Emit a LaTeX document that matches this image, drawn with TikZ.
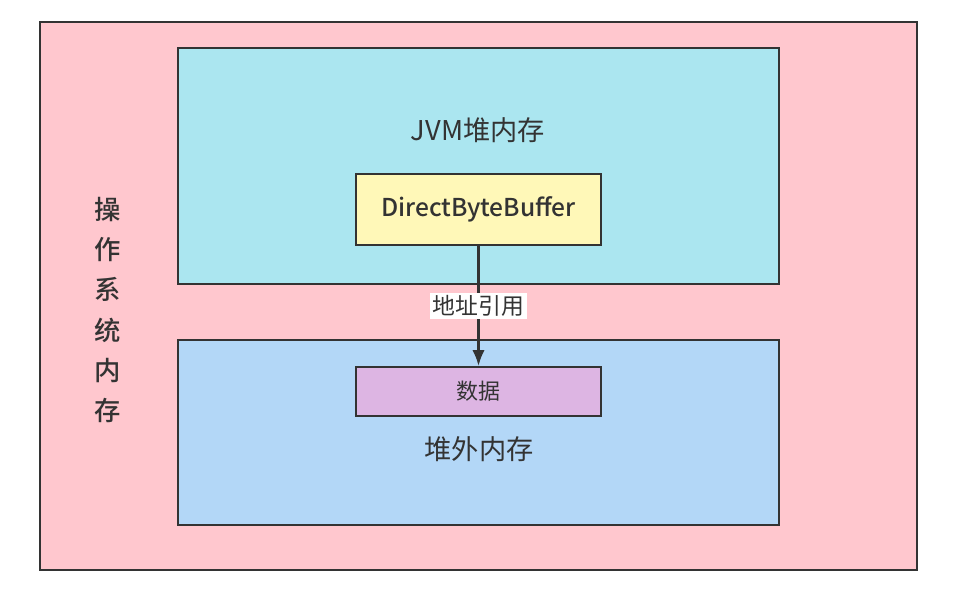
\documentclass[tikz,border=0pt]{standalone}
\usepackage{fontspec}
\setmainfont{Noto Sans CJK SC}
\newfontfamily\medfont{Noto Sans CJK SC Medium}
\usetikzlibrary{arrows.meta,positioning}
\definecolor{ospink}{HTML}{FFC7CE}
\definecolor{heapcyan}{HTML}{ABE6F0}
\definecolor{offblue}{HTML}{B3D7F7}
\definecolor{bufyellow}{HTML}{FFF8B8}
\definecolor{datapurple}{HTML}{DDB5E3}
\definecolor{textgray}{HTML}{333333}
\tikzset{
  memarea/.style={draw=textgray, line width=1.1pt, rectangle, inner sep=0pt},
  membox/.style={draw=textgray, line width=1.1pt, rectangle, inner sep=0pt, minimum width=4.9cm},
  memlabel/.style={text=textgray, font=\fontsize{15.5}{18}\selectfont}
}
\begin{document}
\begin{tikzpicture}[x=0.02cm, y=-0.02cm]
  \useasboundingbox (0,0) rectangle (968,594);
  % os memory
  \node[memarea, fill=ospink, minimum width=17.54cm, minimum height=10.96cm] (os) at (478.5,296) {};
  \node[text=textgray, font=\medfont\fontsize{15}{22.8}\selectfont, align=center] (oslabel) at (108,310)
    {操\\作\\系\\统\\内\\存};
  % jvm heap
  \node[memarea, fill=heapcyan, minimum width=12.02cm, minimum height=4.72cm] (heap) at (478.5,166) {};
  \node[memlabel] (heaplabel) at (478,130) {JVM堆内存};
  \node[membox, fill=bufyellow, minimum height=1.42cm, text=textgray,
        font=\medfont\fontsize{14}{16}\selectfont] (buffer) at (478.5,209.5) {DirectByteBuffer};
  % off-heap
  \node[memarea, fill=offblue, minimum width=12.02cm, minimum height=3.7cm] (offheap) at (478.5,432.5) {};
  \node[membox, fill=datapurple, minimum height=0.98cm, text=textgray,
        font=\fontsize{12.5}{15}\selectfont] (data) at (478.5,391.5) {数据};
  \node[memlabel] (offlabel) at (479,449) {堆外内存};

  % reference
  \draw[textgray, line width=1.4pt, -{Latex[length=9pt, width=7pt]}] (buffer.south) -- (data.north)
    node[midway, fill=white, inner sep=1.5pt, text=textgray, font=\fontsize{13}{15}\selectfont] (ref) {地址引用};
\end{tikzpicture}
\end{document}
